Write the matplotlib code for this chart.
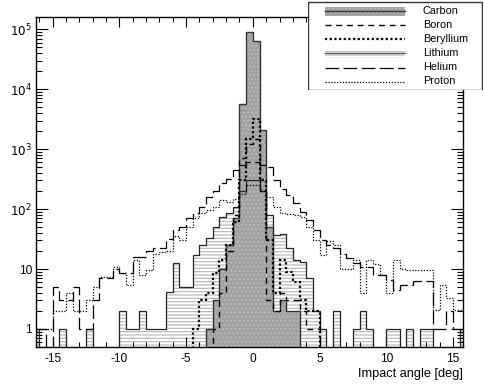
import numpy as np
import matplotlib
matplotlib.use("Agg")
import matplotlib.pyplot as plt
from matplotlib.patches import Rectangle
from matplotlib.ticker import FixedLocator, NullFormatter, MultipleLocator

plt.rcParams['font.family'] = ['Liberation Sans', 'DejaVu Sans']
plt.rcParams['axes.unicode_minus'] = False
plt.rcParams['hatch.linewidth'] = 0.8

# ---------------- data (bin left edges: -16.5 ... 15.5, width 0.5) ----------------
bin_edges = np.arange(-16.5, 16.01, 0.5)

carbon = [0]*26 + [1, 3, 10, 25, 70, 5600, 89000, 63000, 2100, 50, 2, 3, 2, 2] + [0]*25

boron = [0]*27 + [1, 4, 20, 80, 700, 1200, 1500, 200, 3, 2, 4, 3, 3, 2, 1, 1] + [0]*22

beryllium = [0]*24 + [1, 3, 4, 8.5, 14, 25, 60, 300, 1500, 3200, 300, 30, 4, 14, 9, 6, 3, 2, 2] + [0]*22

lithium = [1, 0, 0, 0, 1, 0, 0, 0, 1, 0, 0, 0, 0, 2, 1, 1, 2, 1, 1, 1,
           4.2, 12.5, 5, 5, 17, 25, 33, 50, 75, 85, 110, 200, 300, 300, 200, 80,
           37, 38, 22, 14, 13, 7, 2, 1, 0, 2, 0, 0, 1, 2, 1, 0, 0, 1, 1, 0,
           1, 0, 1, 1, 0, 0, 0, 0, 1]

helium = [1, 1, 0, 5, 3, 3, 5, 1, 1, 3, 7, 7, 10, 8.5, 8.5, 16, 16, 20, 22, 22,
          32, 45, 50, 70, 85, 110, 160, 200, 270, 320, 450, 550, 600, 620, 550, 500,
          300, 220, 170, 125, 90, 65, 45, 30, 25, 22, 18, 15, 12.5, 11, 11, 8, 8, 6.5, 4.5, 5.4,
          5.4, 6.2, 6.2, 6.2, 1, 1, 2, 1, 1]

proton = [1, 1, 1, 2, 2, 4, 2, 2, 3, 5, 7.4, 7.4, 11, 8.5, 5.5, 14, 8, 9.6, 18, 19,
          20, 35, 30, 50, 70, 85, 95, 108, 140, 133, 150, 180, 250, 250, 200, 160,
          110, 85, 83, 80, 75, 50, 30, 17, 29, 25, 10, 10, 14, 4, 14, 12, 8, 4, 14, 10,
          9.6, 9.6, 9.6, 9.6, 2.1, 5.4, 3.3, 2.1, 2.1]

labels = ["Carbon", "Boron", "Beryllium", "Lithium", "Helium", "Proton"]
x_label = "Impact angle [deg]"

YMIN, YMAX = 0.5, 1.6e5
XMIN, XMAX = -16.25, 15.75

# ---------------- figure ----------------
W, H = 485, 385
fig = plt.figure(figsize=(W/100, H/100), dpi=100)
ax = fig.add_axes([36/W, 1-347/H, (463-36)/W, (347-17)/H])
ax.set_yscale('log')
ax.set_xlim(XMIN, XMAX)
ax.set_ylim(YMIN, YMAX)

def v(a):
    a = np.asarray(a, dtype=float)
    return np.where(a > 0, a, 1e-3)

# styles
sty = {
    "Boron": dict(color='black', lw=1.0, ls=(0, (4.3, 3.4))),
    "Beryllium": dict(color='black', lw=1.6, ls=(0, (1, 1.1))),
    "Helium": dict(color='black', lw=0.9, ls=(0, (11, 3.5))),
    "Proton": dict(color='black', lw=0.9, ls=(0, (1, 1.3))),
}

# lithium hatched fill
ax.stairs(v(lithium), bin_edges, baseline=1e-3, fill=True, facecolor='white',
          edgecolor='#b4b4b4', hatch='-----', lw=0, zorder=1)
ax.stairs(v(lithium), bin_edges, baseline=None, color='#222222', lw=0.9, zorder=4)

# carbon gray fill
ax.stairs(v(carbon), bin_edges, baseline=1e-3, fill=True, facecolor='#a2a2a2',
          edgecolor='#bdbdbd', hatch='....', lw=0, zorder=2)
ax.stairs(v(carbon), bin_edges, baseline=None, color='#333333', lw=1.0, zorder=4)

ax.stairs(v(boron), bin_edges, baseline=None, zorder=5, **sty["Boron"])
ax.stairs(v(beryllium), bin_edges, baseline=None, zorder=5, **sty["Beryllium"])
ax.stairs(v(helium), bin_edges, baseline=None, zorder=5, **sty["Helium"])
ax.stairs(v(proton), bin_edges, baseline=None, zorder=5, **sty["Proton"])

# axes styling (ROOT-like)
for s in ax.spines.values():
    s.set_linewidth(1.0)
    s.set_zorder(10)
ax.xaxis.set_major_locator(FixedLocator([-15, -10, -5, 0, 5, 10, 15]))
ax.xaxis.set_minor_locator(MultipleLocator(1))
ax.set_xticklabels(["-15", "-10", "-5", "0", "5", "10", "15"])
ax.yaxis.set_major_locator(FixedLocator([1, 10, 100, 1e3, 1e4, 1e5]))
ax.set_yticklabels(["1", "10", r"$10^{2}$", r"$10^{3}$", r"$10^{4}$", r"$10^{5}$"])
minors = [m*10**e for e in range(-1, 6) for m in range(2, 10)]
ax.yaxis.set_minor_locator(FixedLocator(minors))
ax.yaxis.set_minor_formatter(NullFormatter())
ax.tick_params(axis='both', which='both', direction='in', top=True, right=True,
               labelsize=8.6, width=0.8, colors='black')
ax.tick_params(axis='x', which='major', length=7, pad=4)
ax.tick_params(axis='x', which='minor', length=3.5)
ax.tick_params(axis='y', which='major', length=8.5, pad=3)
ax.tick_params(axis='y', which='minor', length=4.3)

ax.set_xlabel(x_label, fontsize=9.2, loc='right', labelpad=2.5)

# ---------------- legend (manual, pixel coordinates) ----------------
lg = fig.add_axes([308/W, 1-90/H, 175/W, 89/H])
lg.set_xlim(0, 175)
lg.set_ylim(89, 0)
lg.axis('off')
lg.add_patch(Rectangle((0.5, 0.5), 174, 88, fill=True, facecolor='white',
                       edgecolor='#333333', lw=1.0))
ys = [10, 24, 38, 52, 66.5, 80.5]
x0, x1, xt = 17, 97, 115
# carbon
lg.add_patch(Rectangle((x0, ys[0]-4.5), x1-x0, 9, facecolor='#a2a2a2',
                       edgecolor='#bdbdbd', hatch='....', lw=0))
lg.plot([x0, x1], [ys[0], ys[0]], color='#333333', lw=1.0)
lg.plot([x0, x1], [ys[1], ys[1]], **sty["Boron"])
lg.plot([x0, x1], [ys[2], ys[2]], **sty["Beryllium"])
lg.add_patch(Rectangle((x0, ys[3]-4.5), x1-x0, 9, facecolor='white',
                       edgecolor='#b4b4b4', hatch='-----', lw=0))
lg.plot([x0, x1], [ys[3], ys[3]], color='#555555', lw=0.9)
lg.plot([x0, x1], [ys[4], ys[4]], **sty["Helium"])
lg.plot([x0, x1], [ys[5], ys[5]], **sty["Proton"])
for y, t in zip(ys, labels):
    lg.text(xt, y, t, fontsize=7.8, va='center', ha='left')

fig.savefig("out.png", dpi=100)
